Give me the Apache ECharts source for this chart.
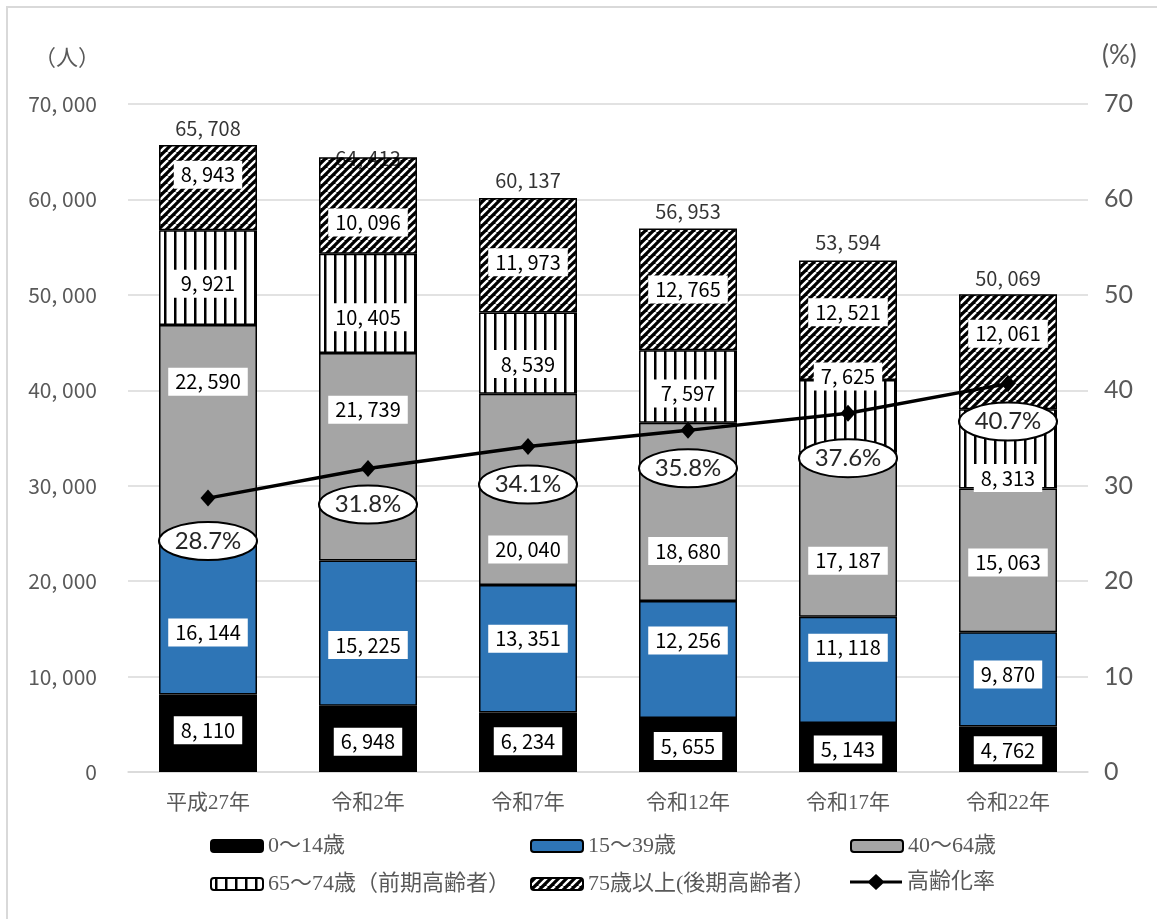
<!DOCTYPE html>
<html>
<head>
<meta charset="utf-8">
<script src="https://cdn.jsdelivr.net/npm/echarts@6/dist/echarts.min.js"></script>
<style>
  html, body { margin: 0; padding: 0; background: #fff; }
  #chart { width: 1157px; height: 919px; }
</style>
</head>
<body>
<div id="chart"></div>
<script>
// Population by age group (persons) and aging rate (%)
const categories = ['平成27年', '令和2年', '令和7年', '令和12年', '令和17年', '令和22年'];
const age0to14 = [8110, 6948, 6234, 5655, 5143, 4762];
const age15to39 = [16144, 15225, 13351, 12256, 11118, 9870];
const age40to64 = [22590, 21739, 20040, 18680, 17187, 15063];
const age65to74 = [9921, 10405, 8539, 7597, 7625, 8313];
const age75plus = [8943, 10096, 11973, 12765, 12521, 12061];
const agingRate = [28.7, 31.8, 34.1, 35.8, 37.6, 40.7];
const seriesNames = ['0～14歳', '15～39歳', '40～64歳', '65～74歳（前期高齢者）', '75歳以上(後期高齢者）', '高齢化率'];

const totals = categories.map((_, i) =>
  age0to14[i] + age15to39[i] + age40to64[i] + age65to74[i] + age75plus[i]);

// Vertical nudges for value boxes so they stay clear of the rate line and bubbles
const labelShift = [
  [-3, 3, -1, 1, 2, 1],
  [15, 12, -10, -19, -22, -5],
  [-51, -47, 60, 39, 26, 2],
  [6, 14, 11, 7, -40, 29],
  [-13, 17, 7, 0, -8, -18]
];
const totalShift = [-17, 1, -18, -17, -18, -16];
const bubbleShift = [43, 36, 38, 38, 45, 38];

function fmt(v) {
  return Number(v).toLocaleString('en-US').replace(/,/g, ', ');
}

// Fill patterns
function stripePattern() {
  const c = document.createElement('canvas');
  c.width = 10; c.height = 10;
  const g = c.getContext('2d');
  g.fillStyle = '#fff'; g.fillRect(0, 0, 10, 10);
  g.fillStyle = '#000'; g.fillRect(4, 0, 2.5, 10);
  return c;
}
function hatchPattern() {
  const s = 8;
  const c = document.createElement('canvas');
  c.width = s; c.height = s;
  const g = c.getContext('2d');
  g.fillStyle = '#000'; g.fillRect(0, 0, s, s);
  g.strokeStyle = '#fff'; g.lineWidth = 2.4;
  for (let k = -1; k <= 1; k++) {
    g.beginPath();
    g.moveTo(k * s, s);
    g.lineTo(k * s + s, 0);
    g.stroke();
  }
  return c;
}

const fills = [
  '#000000',
  '#2e75b6',
  '#a5a5a5',
  { image: stripePattern(), repeat: 'repeat' },
  { image: hatchPattern(), repeat: 'repeat' }
];
const groups = [age0to14, age15to39, age40to64, age65to74, age75plus];

const labelFont = '"Noto Sans CJK JP", "Noto Sans", sans-serif';
const serifFont = '"Liberation Serif", "DejaVu Serif", "Noto Sans CJK JP", serif';
const roundFont = 'Lato, "Open Sans", sans-serif';

// Legend key for the rate line: thick stroke with a diamond marker
const lineKeyIcon = 'path://M0,6.5 L19,6.5 L26,0 L33,6.5 L52,6.5 L52,9.5 L33,9.5 L26,16 L19,9.5 L0,9.5 Z';

const barSeries = groups.map((vals, s) => ({
  name: seriesNames[s],
  type: 'bar',
  stack: 'pop',
  barWidth: 98,
  yAxisIndex: 0,
  z: 2,
  itemStyle: { color: fills[s], borderColor: '#000', borderWidth: 1.5 },
  label: {
    show: true,
    position: 'inside',
    formatter: p => fmt(p.value),
    color: '#000',
    backgroundColor: '#fff',
    padding: [5, 7, 3, 7],
    fontFamily: labelFont,
    fontSize: 20
  },
  data: vals.map((v, i) => ({
    value: v,
    label: { offset: [0, labelShift[s][i]] }
  }))
}));

const chart = echarts.init(document.getElementById('chart'), null, { renderer: 'canvas' });

const legendPos = [
  [210, 835], [530, 835], [850, 835],
  [210, 873], [530, 873], [850, 871]
];

const option = {
  animation: false,
  backgroundColor: '#fff',
  grid: { left: 128, right: 69, top: 104, bottom: 147 },
  legend: seriesNames.map((n, i) => {
    const item = {
      data: [n],
      left: legendPos[i][0],
      top: legendPos[i][1],
      itemWidth: 52,
      itemHeight: 12,
      padding: 0,
      textStyle: { fontFamily: serifFont, fontSize: 22, color: '#595959' }
    };
    if (i === 5) {
      item.itemHeight = 16;
      item.data = [{ name: n, icon: lineKeyIcon, itemStyle: { color: '#000', borderWidth: 0 } }];
    }
    return item;
  }),
  xAxis: {
    type: 'category',
    data: categories,
    axisTick: { show: false },
    axisLine: { lineStyle: { color: '#d9d9d9', width: 1.5 } },
    axisLabel: { fontFamily: serifFont, fontSize: 21, color: '#595959', margin: 21 }
  },
  yAxis: [
    {
      type: 'value', min: 0, max: 70000, interval: 10000,
      axisLine: { show: false }, axisTick: { show: false },
      splitLine: { lineStyle: { color: '#d9d9d9', width: 1.5 } },
      axisLabel: { formatter: v => fmt(v), fontFamily: labelFont, fontSize: 21, color: '#595959', margin: 31 }
    },
    {
      type: 'value', min: 0, max: 70, interval: 10,
      axisLine: { show: false }, axisTick: { show: false },
      splitLine: { show: false },
      axisLabel: { fontFamily: roundFont, fontSize: 25, color: '#595959', margin: 16 }
    }
  ],
  graphic: [
    { type: 'rect', shape: { x: 7, y: 7, width: 1170, height: 930 }, style: { fill: 'none', stroke: '#d9d9d9', lineWidth: 2 }, silent: true },
    { type: 'text', left: 34, top: 46, style: { text: '（人）', font: '22px "Noto Sans CJK JP"', fill: '#595959' } },
    { type: 'text', left: 1102, top: 43, style: { text: '(%)', font: '26px Lato, "Open Sans", sans-serif', fill: '#595959' } }
  ],
  series: [
    ...barSeries,
    {
      name: 'total',
      type: 'scatter',
      yAxisIndex: 0,
      symbolSize: 1,
      itemStyle: { color: 'rgba(0,0,0,0)' },
      z: 4,
      label: {
        show: true, position: 'inside',
        formatter: p => fmt(p.value),
        color: '#000', fontFamily: labelFont, fontSize: 20
      },
      data: totals.map((v, i) => ({ value: v, label: { offset: [0, totalShift[i]] } }))
    },
    {
      name: seriesNames[5],
      type: 'line',
      yAxisIndex: 1,
      z: 5,
      symbol: 'diamond',
      symbolSize: [15, 17],
      lineStyle: { color: '#000', width: 3.5 },
      itemStyle: { color: '#000' },
      data: agingRate
    },
    {
      name: 'rateBubble',
      type: 'custom',
      yAxisIndex: 1,
      z: 6,
      renderItem: (params, api) => {
        const i = params.dataIndex;
        const p = api.coord([api.value(0), api.value(1)]);
        const cy = p[1] + bubbleShift[i];
        return {
          type: 'group',
          children: [
            { type: 'ellipse', shape: { cx: p[0], cy: cy, rx: 49, ry: 19 },
              style: { fill: '#fff', stroke: '#000', lineWidth: 2 } },
            { type: 'text', x: p[0], y: cy,
              style: { text: agingRate[i].toFixed(1) + '%', fill: '#262626',
                       font: '24px ' + roundFont,
                       align: 'center', verticalAlign: 'middle' } }
          ]
        };
      },
      data: agingRate.map((v, i) => [i, v])
    }
  ]
};

chart.setOption(option);
</script>
</body>
</html>
